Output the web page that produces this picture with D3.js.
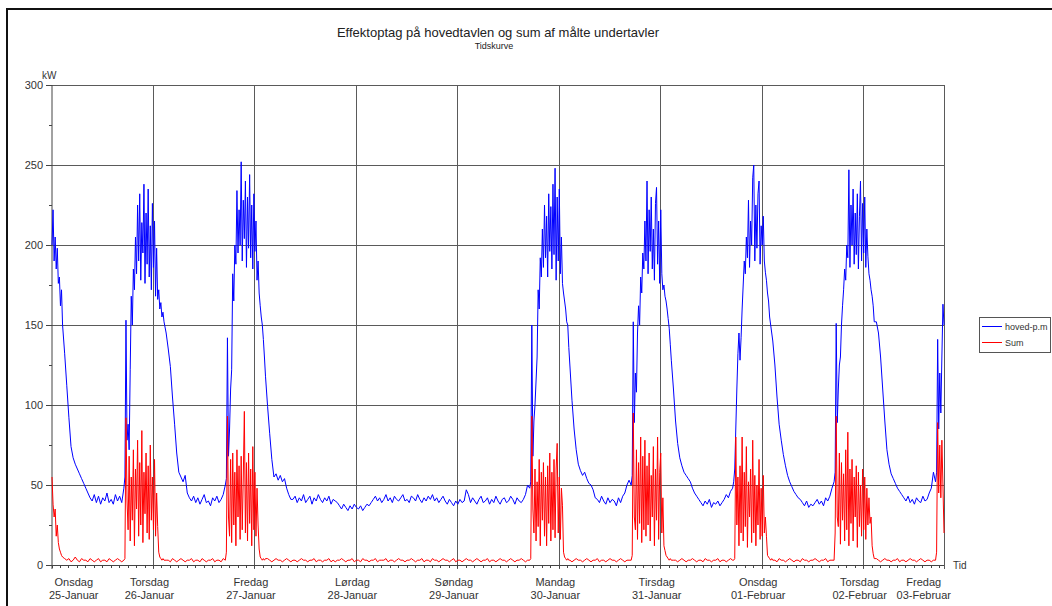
<!DOCTYPE html>
<html>
<head>
<meta charset="utf-8">
<script src="https://cdn.jsdelivr.net/npm/d3@7"></script>
<style>
  html, body { margin: 0; padding: 0; background: #fff; }
  svg { display: block; font-family: "Liberation Sans", Arial, sans-serif; }
</style>
</head>
<body>
<svg id="chart" width="1052" height="606"></svg>
<script>
// ---------------- DATA ----------------
const chartTitle = "Effektoptag på hovedtavlen og sum af målte undertavler";
const chartSubtitle = "Tidskurve";
const yUnit = "kW";
const xUnit = "Tid";
const seriesNames = ["hoved-p.m", "Sum"];
const seriesColors = ["#0000ff", "#ff0000"];

// Day tick labels (ticks at noon of each day)
const dayTickDates = ["2017-01-25","2017-01-26","2017-01-27","2017-01-28","2017-01-29",
                      "2017-01-30","2017-01-31","2017-02-01","2017-02-02","2017-02-03"];
const dayNames = ["Onsdag","Torsdag","Fredag","Lørdag","Søndag","Mandag","Tirsdag","Onsdag","Torsdag","Fredag"];
const dayDates = ["25-Januar","26-Januar","27-Januar","28-Januar","29-Januar",
                  "30-Januar","31-Januar","01-Februar","02-Februar","03-Februar"];
const yTicks = [0, 50, 100, 150, 200, 250, 300];

// Base readings: one every 30 minutes, starting Wed 25 Jan 12:00
const sampleStart = "2017-01-25T12:00:00";
const sampleStepMinutes = 30;

// hoved-p.m (kW), 30-min readings
const hovedValues = [
  // Wed 25 12:00 -> Thu 26 11:30
  205,218,190,176,162,150,132,112,92,74,67,63,60,57,54,51,48,45,42,
  40,44,39,43,38,42,40,45,39,41,38,44,40,43,39,
  47,150,82,125,168,190,
  215,185,232,190,238,178,222,186,
  // Thu 26 12:00 -> Fri 27 11:30
  228,176,190,168,160,152,145,135,124,105,88,70,58,55,52,56,45,42,
  40,43,39,42,38,41,44,39,40,37,42,40,43,39,41,44,
  50,140,72,118,180,205,
  232,190,250,195,238,182,226,190,
  // Fri 27 12:00 -> Sat 28 11:30
  215,178,168,152,140,118,99,82,66,55,57,53,56,52,54,48,44,41,
  41,43,39,42,40,44,39,41,43,38,42,40,44,41,39,42,40,43,38,41,40,39,
  37,35,38,36,34,37,35,38,
  // Sat 28 12:00 -> Sun 29 11:30
  36,35,37,34,36,38,37,
  39,41,43,40,42,39,41,44,40,42,39,43,41,40,42,44,40,41,39,43,42,40,44,41,39,42,40,43,41,44,40,42,39,41,43,40,38,41,39,37,40,
  // Sun 29 12:00 -> Mon 30 11:30
  38,41,39,40,
  47,44,
  39,42,40,38,41,43,39,40,42,38,41,39,43,40,38,41,42,39,40,43,41,38,42,40,39,41,
  44,50,49,
  150,70,100,150,178,195,225,185,232,180,220,248,178,
  // Mon 30 12:00 -> Tue 31 11:30
  235,185,172,160,150,125,103,85,72,63,59,56,58,54,51,50,47,42,
  41,39,43,40,38,42,39,41,40,37,42,39,43,
  45,50,53,
  152,88,120,160,185,195,225,188,240,180,215,192,236,175,
  // Tue 31 12:00 -> Wed 01 11:30
  222,182,168,160,148,128,110,90,76,67,62,58,56,54,52,48,45,43,41,
  39,37,40,38,41,36,39,38,40,37,39,41,
  44,42,46,50,
  85,128,142,140,175,200,228,188,242,205,250,195,240,
  // Wed 01 12:00 -> Thu 02 11:30
  200,218,182,170,155,140,125,105,88,78,69,62,56,52,49,46,44,42,41,
  39,37,40,36,38,37,39,41,38,40,37,42,40,
  43,48,52,
  150,90,128,165,190,210,245,192,230,185,225,195,236,
  // Thu 02 12:00 -> Fri 03 07:00
  190,215,188,178,170,160,152,145,130,110,90,72,63,57,54,51,48,46,44,42,
  40,43,39,41,38,42,40,39,43,40,41,
  45,48,58,95,140,88,125,160
];

// Sum (kW), 30-min readings
const sumValues = [
  // Wed 25 12:00 -> Thu 26 11:30
  55,35,30,14,8,5,4,
  3,4,2,3,5,3,2,4,3,3,2,4,3,2,3,4,2,3,3,2,4,3,2,3,4,3,2,
  3,92,
  25,70,15,62,22,78,12,66,30,84,18,72,
  // Thu 26 12:00 -> Fri 27 11:30
  25,68,22,6,4,
  4,3,3,2,4,3,2,3,4,3,2,3,3,4,2,3,3,2,4,3,2,3,3,4,2,3,3,2,4,
  3,93,
  20,65,14,70,28,62,16,96,22,68,12,74,
  // Fri 27 12:00 -> Mon 30 05:00
  20,58,18,6,4,
  3,4,3,2,3,4,3,3,2,3,4,3,2,3,
  3,2,3,4,3,3,2,3,3,4,2,3,3,2,
  3,3,4,2,3,2,3,3,4,3,2,3,3,4,
  2,3,3,2,4,3,3,2,3,3,4,2,3,3,
  3,4,2,3,3,2,3,4,3,3,2,3,3,4,
  3,2,3,3,4,2,3,3,2,4,3,3,2,3,
  4,3,3,2,3,4,2,3,3,2,3,4,3,3,
  2,3,4,3,2,3,3,4,2,3,3,2,3,4,
  3,3,2,3,4,3,2,3,3,4,3,2,3,3,
  // Mon 30 05:30 -> Tue 31 05:00
  93,
  20,60,15,66,24,58,12,64,20,70,17,76,
  22,60,18,5,4,
  3,2,3,4,3,3,2,3,4,3,2,3,3,4,2,3,3,2,3,4,3,3,2,3,4,3,2,3,3,
  // Tue 31 05:00 -> Wed 01 05:00
  95,
  22,72,16,64,26,80,14,68,22,78,18,62,25,
  70,20,12,7,5,
  4,3,3,2,3,4,3,2,3,3,4,3,2,3,3,2,4,3,3,2,3,3,4,2,3,3,2,3,4,3,
  // Wed 01 05:30 -> Thu 02 05:00
  80,
  18,55,12,62,20,80,15,58,24,74,11,52,
  18,56,20,5,4,
  3,3,2,4,3,3,2,3,4,3,2,3,3,2,4,3,3,2,3,3,4,3,2,3,3,4,2,3,3,2,
  // Thu 02 05:30 -> Fri 03 07:00
  93,
  24,70,13,64,28,83,15,72,22,66,12,60,
  24,55,16,42,26,7,4,
  3,2,3,4,3,3,2,3,3,4,2,3,3,2,3,4,3,3,2,3,4,3,2,3,3,2,3,4,
  89,45,75,20
];

// Working-hours windows read at 15-minute resolution (replace base readings inside each window)
const peakStepMinutes = 15;
const peakStarts = ["2017-01-25T12:00:00","2017-01-26T05:00:00","2017-01-27T05:00:00",
                    "2017-01-30T05:00:00","2017-01-31T05:00:00","2017-02-01T05:00:00",
                    "2017-02-02T05:00:00","2017-02-03T05:00:00"];

const hovedPeakWed25 = [200,222,190,205,185,198,176,180,162,172,150];
const hovedPeakThu26 = [48,55,153,78,88,72,122,168,150,185,172,205,182,225,190,232,178,214,195,238,
                        176,220,188,235,180,212,172,226,186,215,168,198,166,172,160,164,155,158,152];
const hovedPeakFri27 = [50,54,142,68,85,110,122,182,165,200,188,234,195,222,200,252,190,228,204,240,
                        186,230,198,244,192,225,185,232,196,215,178,190,170,162,155,150,141,130,118];
const hovedPeakMon30 = [48,52,150,68,90,100,115,130,172,160,192,180,210,186,225,192,218,180,232,196,
                        224,185,238,194,248,178,230,190,235,182,205,176,170,165,160,152,150,136,125];
const hovedPeakTue31 = [50,56,152,89,120,108,145,162,150,180,170,195,185,215,190,240,182,222,196,230,
                        185,210,178,226,236,188,215,176,222,182,172,175,168,165,160,154,148,138,128];
const hovedPeakWed01 = [48,52,60,85,110,132,145,128,142,160,175,190,182,205,192,228,186,215,200,242,
                        250,190,225,198,232,240,188,212,200,218,190,183,178,170,165,155,150,145,140];
const hovedPeakThu02 = [52,58,151,89,110,125,130,150,162,172,185,178,200,192,247,186,225,200,235,188,
                        220,194,232,185,218,240,190,226,195,230,186,210,193,182,178,172,168,162,152];
const hovedPeakFri03 = [52,58,141,85,120,95,130,163,150];

const sumPeakWed25 = [55,38,30,35,18,25,14,10,8,6,5];
const sumPeakThu26 = [3,4,92,40,22,68,15,55,28,72,12,60,35,78,18,64,25,84,14,58,
                      32,70,20,62,16,75,28,55,22,66,18,45,24,8,5,4,3,4,3];
const sumPeakFri27 = [3,8,93,30,18,66,14,70,25,58,12,72,30,62,16,68,22,55,96,20,
                      64,15,70,26,60,12,74,22,58,18,48,25,10,5,4,3,4,3,4];
const sumPeakMon30 = [3,4,93,35,20,60,15,52,24,66,12,58,28,64,18,55,12,62,26,70,
                      15,58,22,66,17,60,76,20,55,16,48,37,8,5,4,3,4,3,3];
const sumPeakTue31 = [3,6,95,30,22,72,16,64,26,80,14,68,22,78,18,62,25,70,15,56,
                      30,74,12,60,28,80,16,58,70,20,42,12,9,6,5,4,3,4,3];
const sumPeakWed01 = [3,3,4,80,25,55,12,62,20,80,15,58,24,74,11,52,30,60,14,78,
                      20,56,12,50,25,66,16,48,18,56,20,30,18,6,5,4,3,4,3];
const sumPeakThu02 = [3,20,93,30,24,70,13,64,28,57,15,72,22,83,12,60,26,66,15,55,
                      30,62,11,58,24,50,18,60,22,55,16,48,25,42,26,30,12,7,4];
const sumPeakFri03 = [3,8,89,45,75,42,78,50,20];

const hovedPeaks = [hovedPeakWed25, hovedPeakThu26, hovedPeakFri27, hovedPeakMon30,
                    hovedPeakTue31, hovedPeakWed01, hovedPeakThu02, hovedPeakFri03];
const sumPeaks = [sumPeakWed25, sumPeakThu26, sumPeakFri27, sumPeakMon30,
                  sumPeakTue31, sumPeakWed01, sumPeakThu02, sumPeakFri03];

// ---------------- CHART ----------------
const svg = d3.select("#chart");
const W = 1052, H = 606;
const plot = { left: 52, right: 944, top: 85, bottom: 565 };

const parseT = d3.timeParse("%Y-%m-%dT%H:%M:%S");
const t0 = parseT(sampleStart);
const timeAt = i => d3.timeMinute.offset(t0, i * sampleStepMinutes);
const nPts = Math.max(hovedValues.length, sumValues.length);
const tEnd = timeAt(nPts - 1);

function buildSeries(base, peaks) {
  const windows = peakStarts.map((s, k) => {
    const a = parseT(s);
    return [a, d3.timeMinute.offset(a, (peaks[k].length - 1) * peakStepMinutes)];
  });
  const pts = base.map((v, i) => ({ t: timeAt(i), v }))
    .filter(p => !windows.some(([a, b]) => p.t >= a && p.t <= b));
  peaks.forEach((arr, k) => arr.forEach((v, j) =>
    pts.push({ t: d3.timeMinute.offset(windows[k][0], j * peakStepMinutes), v })));
  pts.sort((p, q) => p.t - q.t);
  return pts.filter(p => p.t <= tEnd);
}

const x = d3.scaleTime().domain([t0, tEnd]).range([plot.left, plot.right]);
const y = d3.scaleLinear().domain([0, 300]).range([plot.bottom, plot.top]);

// outer frame (top + left)
svg.append("path")
  .attr("d", `M7,${H} V9 H${W}`)
  .attr("fill", "none").attr("stroke", "#111").attr("stroke-width", 2);

// Title
svg.append("text").attr("x", 498).attr("y", 37).attr("text-anchor", "middle")
  .attr("font-size", 13).attr("fill", "#222").text(chartTitle);
svg.append("text").attr("x", 494).attr("y", 49).attr("text-anchor", "middle")
  .attr("font-size", 9).attr("fill", "#222").text(chartSubtitle);

const gridColor = "#5a5a5a";
const noonTicks = dayTickDates.map(d => d3.timeHour.offset(parseT(d + "T00:00:00"), 12));

// horizontal grid
const gGrid = svg.append("g").attr("shape-rendering", "crispEdges");
gGrid.selectAll("line.h").data(yTicks.filter(v => v > 0)).join("line")
  .attr("x1", plot.left).attr("x2", plot.right)
  .attr("y1", d => y(d)).attr("y2", d => y(d))
  .attr("stroke", gridColor).attr("stroke-width", 1);

// vertical grid at noon
gGrid.selectAll("line.v").data(noonTicks.filter(d => x(d) > plot.left + 1 && x(d) < plot.right - 1)).join("line")
  .attr("x1", d => x(d)).attr("x2", d => x(d))
  .attr("y1", plot.top).attr("y2", plot.bottom + 4)
  .attr("stroke", gridColor).attr("stroke-width", 1);

// right border
gGrid.append("line").attr("x1", plot.right).attr("x2", plot.right)
  .attr("y1", plot.top).attr("y2", plot.bottom + 4)
  .attr("stroke", gridColor).attr("stroke-width", 1);

// minor x ticks every 2 hours
const minorX = d3.timeHour.every(2).range(t0, d3.timeMinute.offset(tEnd, 1));
gGrid.selectAll("line.mx").data(minorX).join("line")
  .attr("x1", d => x(d)).attr("x2", d => x(d))
  .attr("y1", plot.bottom).attr("y2", plot.bottom + 3)
  .attr("stroke", "#444").attr("stroke-width", 1);

// y axis
const yAxis = d3.axisLeft(y).tickValues(yTicks).tickSize(6).tickPadding(3).tickFormat(d3.format("d"));
const gY = svg.append("g").attr("transform", `translate(${plot.left},0)`).call(yAxis);
gY.select(".domain").attr("stroke", "#444").attr("d", `M0,${plot.top}V${plot.bottom + 4}`);
gY.selectAll(".tick line").attr("stroke", "#444");
gY.selectAll("text").attr("font-size", 11).attr("fill", "#333")
  .attr("font-family", "Liberation Sans, Arial, sans-serif");
// minor y ticks
const minorY = d3.range(25, 300, 50);
svg.append("g").attr("shape-rendering", "crispEdges").selectAll("line").data(minorY).join("line")
  .attr("x1", plot.left - 3).attr("x2", plot.left)
  .attr("y1", d => y(d)).attr("y2", d => y(d)).attr("stroke", "#444");

// x axis line
svg.append("line").attr("shape-rendering", "crispEdges")
  .attr("x1", plot.left).attr("x2", plot.right)
  .attr("y1", plot.bottom).attr("y2", plot.bottom)
  .attr("stroke", "#444");

// x labels
const gXL = svg.append("g").attr("font-size", 11).attr("fill", "#333");
noonTicks.forEach((d, i) => {
  const g = gXL.append("g");
  const t1 = g.append("text").attr("text-anchor", "middle").attr("y", 586).text(dayNames[i]);
  const t2 = g.append("text").attr("text-anchor", "middle").attr("y", 599).text(dayDates[i]);
  const w = Math.max(t1.node().getComputedTextLength(), t2.node().getComputedTextLength());
  let cx = x(d) - 4;
  cx = Math.max(cx, 49 + w / 2);
  cx = Math.min(cx, 951 - w / 2);
  t1.attr("x", cx); t2.attr("x", cx);
});

// unit labels
svg.append("text").attr("x", 42).attr("y", 79).attr("font-size", 10).attr("fill", "#333").text(yUnit);
svg.append("text").attr("x", 953).attr("y", 569).attr("font-size", 10).attr("fill", "#333").text(xUnit);

// series lines
const seriesData = [buildSeries(hovedValues, hovedPeaks), buildSeries(sumValues, sumPeaks)];
const line = d3.line().x(d => x(d.t)).y(d => y(d.v));
seriesData.forEach((pts, k) => {
  svg.append("path").datum(pts)
    .attr("d", line)
    .attr("fill", "none")
    .attr("stroke", seriesColors[k])
    .attr("stroke-width", 1)
    .attr("stroke-linejoin", "miter");
});

// legend
const lg = svg.append("g");
lg.append("rect").attr("x", 979.5).attr("y", 317.5).attr("width", 71).attr("height", 35)
  .attr("fill", "#fff").attr("stroke", "#555");
seriesNames.forEach((name, k) => {
  const yy = 326.5 + k * 16;
  lg.append("line").attr("x1", 982).attr("x2", 1002).attr("y1", yy).attr("y2", yy)
    .attr("stroke", seriesColors[k]).attr("stroke-width", 1);
  lg.append("text").attr("x", 1005).attr("y", yy + 3.5).attr("font-size", 9).attr("fill", "#333").text(name);
});
</script>
</body>
</html>
